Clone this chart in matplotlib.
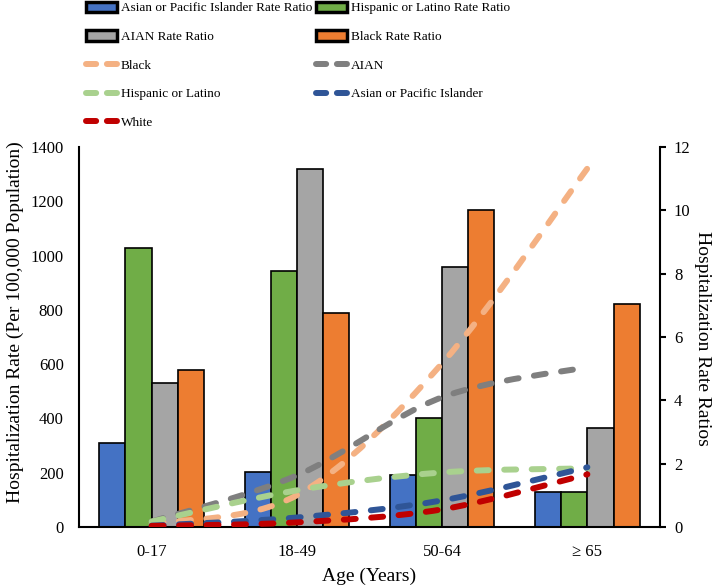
import matplotlib
matplotlib.use('Agg')
import matplotlib.pyplot as plt
from matplotlib.patches import Patch, PathPatch
from matplotlib.lines import Line2D
from matplotlib.path import Path

plt.rcParams['font.family'] = ['Liberation Serif', 'DejaVu Serif']
plt.rcParams['font.size'] = 12

# Altersgruppen
gruppen = ['0-17', '18-49', '50-64', '≥ 65']

# Rate Ratios (rechte Achse, Balken)
asian_rr = [2.65, 1.73, 1.64, 1.10]
hisp_rr = [8.80, 8.08, 3.44, 1.10]
aian_rr = [4.55, 11.3, 8.20, 3.12]
black_rr = [4.95, 6.75, 10.0, 7.05]

# Hospitalisierungsraten (linke Achse, Linien)
black_rate = [12, 117, 603, 1321]
aian_rate = [20, 190, 478, 589]
hisp_rate = [20, 135, 201, 216]
asian_rate = [5, 35, 98, 220]
white_rate = [4, 17, 65, 194]

fig = plt.figure(figsize=(7.14, 5.85), dpi=100)
ax = fig.add_axes([79 / 714, 1 - 527 / 585, (660 - 79) / 714, (527 - 147) / 585])
ax2 = ax.twinx()

# Balken
x = list(range(len(gruppen)))
bw = 0.18
balken = [
    (asian_rr, '#4472C4', 'Asian or Pacific Islander Rate Ratio'),
    (hisp_rr, '#70AD47', 'Hispanic or Latino Rate Ratio'),
    (aian_rr, '#A5A5A5', 'AIAN Rate Ratio'),
    (black_rr, '#ED7D31', 'Black Rate Ratio'),
]
for k, (werte, farbe, name) in enumerate(balken):
    pos = [i + (k - 1.5) * bw for i in x]
    ax.bar(pos, werte, width=bw, color=farbe, edgecolor='black', linewidth=1.2, zorder=2)

ax.set_ylim(0, 12)
ax.set_xlim(-0.5, 3.5)
ax.set_yticks(range(0, 13, 2))
ax.yaxis.set_ticks_position('right')
ax.yaxis.set_label_position('right')
ax.set_ylabel('Hospitalization Rate Ratios', rotation=270, fontsize=14, va='center')
ax.yaxis.set_label_coords((702 - 79) / 581, 0.497)
ax.tick_params(axis='y', direction='out', length=4, width=1.5, pad=6)
ax.set_xticks(x)
ax.set_xticklabels(gruppen)
ax.tick_params(axis='x', length=0, pad=12)
ax.set_xlabel('Age (Years)', fontsize=14, labelpad=6)
for s in ['top', 'left']:
    ax.spines[s].set_visible(False)
for s in ['right', 'bottom']:
    ax.spines[s].set_linewidth(1.5)

# Linien auf zweiter Achse (links)
ax2.set_ylim(0, 1400)
ax2.set_yticks(range(0, 1401, 200))
ax2.yaxis.set_ticks_position('left')
ax2.yaxis.set_label_position('left')
ax2.tick_params(axis='y', length=0, pad=11)
ax2.set_ylabel('Hospitalization Rate (Per 100,000 Population)', fontsize=14, va='center')
ax2.yaxis.set_label_coords((15 - 79) / 581, 0.54)
for s in ['top', 'right', 'bottom']:
    ax2.spines[s].set_visible(False)
ax2.spines['left'].set_linewidth(1.5)


def glatte_linie(achse, werte, farbe):
    # geglaettete Kurve wie in Excel (Catmull-Rom als Bezier)
    p = list(zip(x, werte))
    verts = [p[0]]
    codes = [Path.MOVETO]
    for i in range(len(p) - 1):
        p0 = p[i - 1] if i > 0 else p[i]
        p1 = p[i]
        p2 = p[i + 1]
        p3 = p[i + 2] if i + 2 < len(p) else p[i + 1]
        c1 = (p1[0] + (p2[0] - p0[0]) / 6, p1[1] + (p2[1] - p0[1]) / 6)
        c2 = (p2[0] - (p3[0] - p1[0]) / 6, p2[1] - (p3[1] - p1[1]) / 6)
        verts += [c1, c2, p2]
        codes += [Path.CURVE4] * 3
    patch = PathPatch(Path(verts, codes), fill=False, edgecolor=farbe, linewidth=4.3,
                      linestyle=(0, (2.0, 2.6)), capstyle='round', zorder=3)
    achse.add_patch(patch)


linien = [
    (black_rate, '#F4B183', 'Black'),
    (aian_rate, '#7F7F7F', 'AIAN'),
    (hisp_rate, '#A9D18E', 'Hispanic or Latino'),
    (asian_rate, '#2F5597', 'Asian or Pacific Islander'),
    (white_rate, '#C00000', 'White'),
]
for werte, farbe, name in linien:
    glatte_linie(ax2, werte, farbe)

# Legende
handles = []
labels = []
spalte1 = [('bar', balken[0]), ('bar', balken[2]), ('line', linien[0]), ('line', linien[2]), ('line', linien[4])]
spalte2 = [('bar', balken[1]), ('bar', balken[3]), ('line', linien[1]), ('line', linien[3])]
for art, eintrag in spalte1 + spalte2:
    if art == 'bar':
        handles.append(Patch(facecolor=eintrag[1], edgecolor='black', linewidth=2.5))
    else:
        handles.append(Line2D([], [], color=eintrag[1], linewidth=4.3,
                              linestyle=(0, (1.7, 1.8)), dash_capstyle='round'))
    labels.append(eintrag[2])

fig.legend(handles, labels, ncol=2, loc='upper left', bbox_to_anchor=(79 / 714, 1 + 5 / 585),
           frameon=False, borderpad=0, fontsize=9.5, labelspacing=1.2, handlelength=2.35,
           handletextpad=0.3, columnspacing=0.3, handleheight=0.85)

fig.savefig('out.png', dpi=100)
